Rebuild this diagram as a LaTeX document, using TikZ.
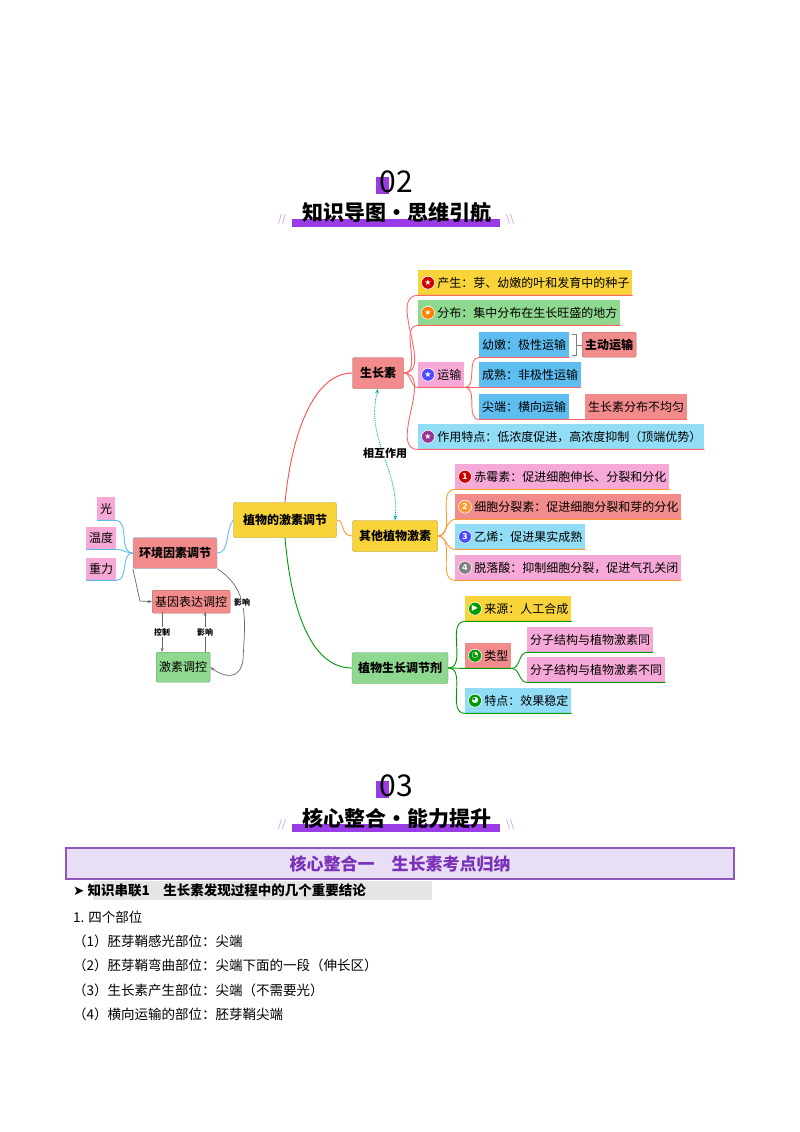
\documentclass[tikz,border=0pt]{standalone}
\usepackage{fontspec}
\setmainfont{Noto Sans CJK SC}
\newfontfamily\dej{DejaVu Sans}
\usetikzlibrary{arrows.meta,positioning}
\definecolor{yel}{HTML}{F9D33A}
\definecolor{grn}{HTML}{8FD88F}
\definecolor{rd}{HTML}{F28B8B}
\definecolor{pnk}{HTML}{F6A9D6}
\definecolor{blu}{HTML}{5DBDF0}
\definecolor{lbl}{HTML}{92DDF6}
\definecolor{vio}{HTML}{9A3CE6}
\definecolor{lvio}{HTML}{E8DEF6}
\newcommand\icn[2]{\raisebox{4.5pt}{\tikz[baseline=(i.center)]\node[circle,fill=#1,draw=white,line width=0.6pt,inner sep=0pt,minimum size=13pt,text=white,font=\dej\fontsize{8}{8}\selectfont\bfseries] (i) {#2};}}
\tikzset{
  box/.style={rectangle, anchor=north west, inner xsep=3pt, inner ysep=0pt, minimum height=25pt, font=\fontsize{12}{12}\selectfont},
  hub/.style={rectangle, rounded corners=2pt, draw=#1!70!black, fill=#1, minimum height=31pt, inner xsep=6pt, font=\fontsize{12}{12}\selectfont\bfseries},
  br/.style={draw=#1, line width=0.9pt},
  gar/.style={draw=gray!80!black, line width=0.7pt, -{Stealth[length=4pt]}},
  tiny/.style={font=\fontsize{8}{8}\selectfont\bfseries, fill=white, inner sep=1pt},
  body/.style={anchor=west, font=\fontsize{13.5}{13.5}\selectfont, inner sep=0pt}
}
\begin{document}
\begin{tikzpicture}[x=1pt,y=-1pt]
\useasboundingbox (0,0) rectangle (800,1132);
% headers
\fill[vio] (376,177) rectangle (389,194);
\node[font=\fontsize{30}{30}\selectfont] (n02) at (396,182) {02};
\fill[vio] (292,219) rectangle (500,227);
\node[font=\fontsize{21}{21}\selectfont\bfseries] (t02) at (397,213) {知识导图·思维引航};
\node[text=vio!60, font=\fontsize{10}{10}\selectfont] (s1) at (282,219) {//};
\node[text=vio!60, font=\fontsize{10}{10}\selectfont] (s2) at (510,219) {\textbackslash\textbackslash};
\fill[vio] (376,781) rectangle (389,798);
\node[font=\fontsize{30}{30}\selectfont] (n03) at (396,786) {03};
\fill[vio] (292,824) rectangle (500,832);
\node[font=\fontsize{21}{21}\selectfont\bfseries] (t03) at (397,818) {核心整合·能力提升};
\node[text=vio!60, font=\fontsize{10}{10}\selectfont] (s3) at (282,824) {//};
\node[text=vio!60, font=\fontsize{10}{10}\selectfont] (s4) at (510,824) {\textbackslash\textbackslash};

% hubs
\node[hub=yel, minimum width=103pt, minimum height=35pt] (root) at (285,520) {植物的激素调节};
\node[hub=rd, minimum width=51pt] (sz) at (378,373) {生长素};
\node[hub=yel, minimum width=85pt] (qt) at (395,536) {其他植物激素};
\node[hub=grn, minimum width=96pt] (tj) at (400,668) {植物生长调节剂};
\node[hub=rd, minimum width=84pt, draw=blu] (hj) at (175,553) {环境因素调节};

% auxin leaves
\node[box, fill=yel] (cs) at (418,270) {\icn{red!80!black}{★} 产生：芽、幼嫩的叶和发育中的种子};
\node[box, fill=grn] (fb) at (418,300) {\icn{orange}{★} 分布：集中分布在生长旺盛的地方};
\node[box, fill=pnk] (ys) at (418,362) {\icn{blue!70}{★} 运输};
\node[box, fill=blu] (yn) at (479,332) {幼嫩：极性运输};
\node[box, fill=rd, draw=rd!70!black, rounded corners=2pt, font=\fontsize{12}{12}\selectfont\bfseries] (zd) at (582,332) {主动运输};
\node[box, fill=blu] (cx) at (479,362) {成熟：非极性运输};
\node[box, fill=blu] (jd) at (479,394) {尖端：横向运输};
\node[box, fill=rd] (bj) at (585,394) {生长素分布不均匀};
\node[box, fill=lbl] (td) at (418,424) {\icn{violet!80}{★} 作用特点：低浓度促进，高浓度抑制（顶端优势）};

% other hormones
\node[box, fill=pnk] (cm) at (455,464) {\icn{red!80!black}{1} 赤霉素：促进细胞伸长、分裂和分化};
\node[box, fill=rd] (xb) at (455,494) {\icn{orange!80}{2} 细胞分裂素：促进细胞分裂和芽的分化};
\node[box, fill=lbl] (yx) at (455,524) {\icn{blue!70}{3} 乙烯：促进果实成熟};
\node[box, fill=pnk] (tl) at (455,555) {\icn{gray}{4} 脱落酸：抑制细胞分裂，促进气孔关闭};

% regulators
\node[box, fill=yel] (ly) at (465,596) {\icn{green!60!black}{▶} 来源：人工合成};
\node[box, fill=rd] (lx) at (465,643) {\icn{green!60!black}{◔} 类型};
\node[box, fill=pnk] (tq) at (527,627) {分子结构与植物激素同};
\node[box, fill=pnk] (bt) at (527,657) {分子结构与植物激素不同};
\node[box, fill=lbl] (td2) at (465,688) {\icn{green!60!black}{◕} 特点：效果稳定};

% environment
\node[box, fill=pnk, minimum height=23pt] (gu) at (97,497) {光};
\node[box, fill=pnk, minimum height=22pt] (wd) at (86,527) {温度};
\node[box, fill=pnk, minimum height=22pt] (zl) at (86,558) {重力};
\node[box, fill=rd, draw=rd!70!black, rounded corners=2pt, minimum height=23pt] (jy) at (152,590) {基因表达调控};
\node[box, fill=grn, draw=grn!70!black, rounded corners=2pt, minimum height=30pt] (js) at (156,652) {激素调控};

% connectors
\draw[br=red!70] (root.north) .. controls (292,430) and (315,373) .. (sz.west);
\draw[br=orange!80] (root.east) .. controls (345,520) and (340,536) .. (qt.west);
\draw[br=green!60!black] (root.south) .. controls (292,620) and (315,668) .. (tj.west);
\draw[br=blu] (root.west) .. controls (225,530) and (230,553) .. (hj.east);
\foreach \n in {cs,fb,ys,td}
  \draw[br=red!60] (sz.east) to[out=0,in=180] (\n.south west) -- (\n.south east);
\foreach \n in {yn,cx,jd}
  \draw[br=red!60] (ys.south east) to[out=0,in=180] (\n.south west) -- (\n.south east);
\draw[br=red!60] (jd.south east) -- (bj.south east);
\draw[gray, line width=0.8pt] (572,334) -- (576,334) -- (576,355) -- (572,355) (576,345) -- (582,345);
\foreach \n in {cm,xb,yx,tl}
  \draw[br=orange!80] (qt.east) to[out=0,in=180] (\n.south west) -- (\n.south east);
\foreach \n in {ly,lx,td2}
  \draw[br=green!60!black] (tj.east) to[out=0,in=180] (\n.south west) -- (\n.south east);
\foreach \n in {tq,bt}
  \draw[br=green!60!black] (lx.south east) to[out=0,in=180] (\n.south west) -- (\n.south east);
\foreach \n in {gu,wd,zl}
  \draw[br=blu] (hj.west) to[out=180,in=0] (\n.south east) -- (\n.south west);
\draw[densely dotted, draw=teal!60!cyan, line width=0.9pt, {Stealth[length=5pt]}-{Stealth[length=5pt]}] (sz.south) .. controls (365,440) and (400,470) .. (qt.north);
\node[font=\fontsize{11}{11}\selectfont\bfseries, fill=white, inner sep=1pt] (hz) at (385,453) {相互作用};
\draw[gar] (hj.south west) -- (140,601) -- (jy.west);
\draw[gar] (162,612) -- node[tiny] {控制} (162,652);
\draw[gar] (205,652) -- node[tiny] {影响} (205,612);
\draw[gar] (hj.south east) .. controls (250,590) and (245,620) .. node[tiny, pos=0.45] {影响} (243,660) .. controls (240,680) and (225,678) .. (js.east);

% lower section
\draw[draw=vio!60!gray, line width=1.2pt, fill=lvio] (66,848) rectangle (734,879);
\node[text=vio!80!black, font=\fontsize{17}{17}\selectfont\bfseries] (bn) at (400,864) {核心整合一\quad 生长素考点归纳};
\fill[gray!20] (93,881) rectangle (432,900);
\node[body, font=\fontsize{13.5}{13.5}\selectfont\bfseries] (zs) at (73,890) {{\dej ➤} 知识串联1\quad 生长素发现过程中的几个重要结论};
\node[body] (l0) at (73,917) {1.  四个部位};
\node[body] (l1) at (73,941) {（1）胚芽鞘感光部位：尖端};
\node[body] (l2) at (73,965) {（2）胚芽鞘弯曲部位：尖端下面的一段（伸长区）};
\node[body] (l3) at (73,990) {（3）生长素产生部位：尖端（不需要光）};
\node[body] (l4) at (73,1014) {（4）横向运输的部位：胚芽鞘尖端};
\end{tikzpicture}
\end{document}
